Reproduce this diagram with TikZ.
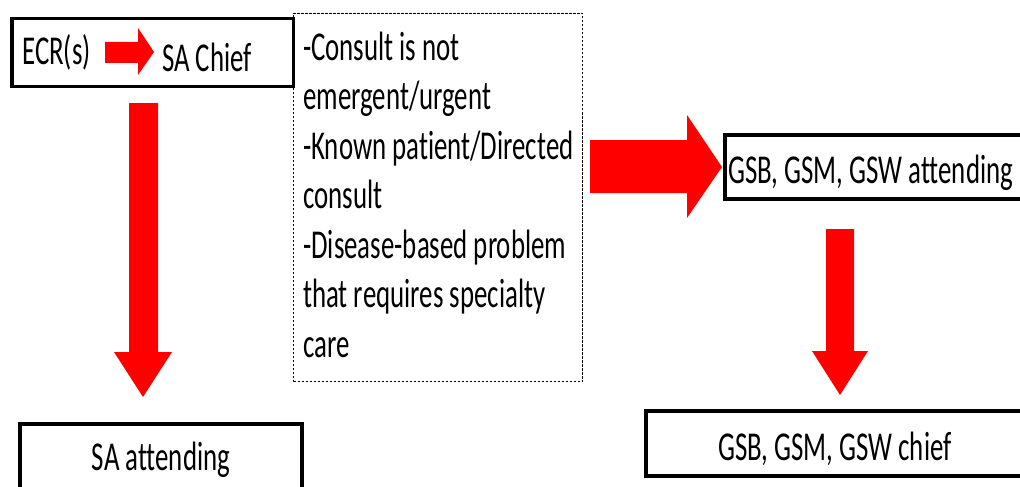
\documentclass[tikz,border=0pt]{standalone}
\usepackage{fontspec}
\setmainfont{Carlito}[FakeStretch=0.655, Ligatures=NoCommon]
\begin{document}
\begin{tikzpicture}[x=1pt,y=-1pt,
  box/.style={draw=black, line width=3.5pt, inner sep=0pt},
  dashbox/.style={draw=black, line width=1pt, dash pattern=on 2.5pt off 1.5pt, inner sep=0pt},
  lbl/.style={inner sep=0pt, font=\fontsize{41}{49.5}\selectfont},
  blockarrow/.style={fill=red, draw=none}]

\useasboundingbox (0,0) rectangle (1020,487);
\clip (0,0) rectangle (1020,487);

% frames
\node[box, minimum width=281.5pt, minimum height=67.5pt] (top) at (152.5,52.5) {};
\node[box, minimum width=282pt, minimum height=76pt] (saatt) at (161,462) {};
\node[box, minimum width=310pt, minimum height=64pt] (gsatt) at (880,167) {};
\node[box, minimum width=389pt, minimum height=65pt] (gschief) at (840.5,443.5) {};
\node[dashbox, minimum width=289pt, minimum height=368pt] (crit) at (438,197.5) {};

% labels
\node[lbl, anchor=base west] (ecr) at (22,65) {ECR(s)};
\node[lbl, anchor=base west] (sachief) at (162,72) {SA Chief};
\node[lbl, anchor=base west] (gsattl) at (728,183) {GSB, GSM, GSW attending};
\node[lbl, anchor=base] (saattl) at (161,470) {SA attending};
\node[lbl, anchor=base west] (gschiefl) at (718,460) {GSB, GSM, GSW chief};
\foreach \t [count=\i] in {-Consult is not, emergent/urgent, -Known patient/Directed,
    consult, -Disease-based problem, that requires specialty, care}
  \node[lbl, anchor=base west] (crit\i) at (303,{60+49.5*(\i-1)}) {\t};

% block arrows
\fill[blockarrow] (105,42) -- (138,42) -- (138,28) -- (154,52) -- (138,75) -- (138,63) -- (105,63) -- cycle;
\fill[blockarrow] (129,103) -- (158,103) -- (158,352) -- (172,352) -- (143,397) -- (114,352) -- (129,352) -- cycle;
\fill[blockarrow] (590,140) -- (687,140) -- (687,115) -- (722,167) -- (687,218) -- (687,193) -- (590,193) -- cycle;
\fill[blockarrow] (826,229) -- (854,229) -- (854,351) -- (868,351) -- (840,395) -- (812,351) -- (826,351) -- cycle;
\end{tikzpicture}
\end{document}
